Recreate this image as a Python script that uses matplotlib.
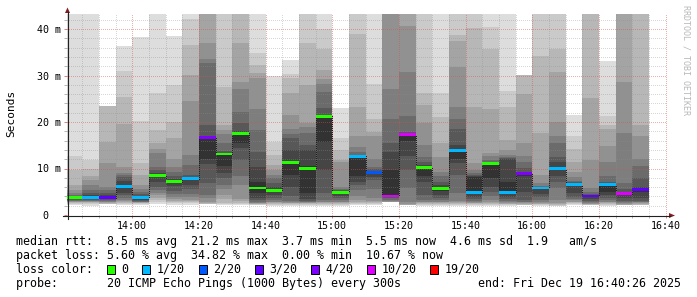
import matplotlib
matplotlib.use("Agg")
import matplotlib.pyplot as plt
from matplotlib.lines import Line2D
from matplotlib.patches import Rectangle, Polygon
from matplotlib.ticker import MultipleLocator, FuncFormatter

# ---------------- data (ms) ----------------
# end time of each 5-minute slot
slots = ["13:45", "13:50", "13:55", "14:00", "14:05", "14:10", "14:15", "14:20", "14:25",
         "14:30", "14:35", "14:40", "14:45", "14:50", "14:55", "15:00", "15:05", "15:10",
         "15:15", "15:20", "15:25", "15:30", "15:35", "15:40", "15:45", "15:50", "15:55",
         "16:00", "16:05", "16:10", "16:15", "16:20", "16:25", "16:30", "16:35"]

median_ms = [3.8, 3.7, 3.7, 6.1, 3.7, 8.5, 7.2, 7.8, 16.6, 13.1, 17.6, 5.8, 5.2, 11.3,
             10.0, 21.2, 4.9, 12.6, 9.2, 4.1, 17.3, 10.3, 5.7, 13.8, 4.8, 11.0, 4.8,
             9.0, 5.8, 10.0, 6.5, 4.1, 6.5, 4.6, 5.5]

lost_pings = [0, 1, 3, 1, 1, 0, 0, 1, 4, 0, 0, 0, 0, 0, 0, 0, 0, 1, 2, 7, 6, 0, 0, 1, 1,
              0, 1, 4, 1, 1, 1, 3, 1, 6, 3]

# sorted ping times per slot (20 pings, None = lost)
s1345 = [2.1, 2.3, 2.5, 2.7, 2.9, 3.0, 3.1, 3.3, 3.5, 3.7, 3.9, 4.0, 4.1, 4.3, 4.7, 5.4, 6.5, 9.7, 12.6, 45]
s1350 = [2.0, 2.3, 2.5, 2.7, 2.8, 3.0, 3.1, 3.2, 3.4, 3.6, 3.9, 4.2, 4.8, 5.4, 6.5, 7.5, 8.3, 10.0, 11.8, 45]
s1355 = [None, 2.2, 2.4, 2.6, 2.8, 2.9, 3.0, 3.2, 3.4, 3.6, 3.8, 4.3, 4.8, 5.4, 6.1, 11.2, 15.7, 23.4, None, None]
s1400 = [2.1, 2.4, 2.6, 2.8, 3.0, 3.2, 3.6, 4.2, 4.8, 5.7, 6.3, 7.3, 8.2, 8.6, 9.0, 10.4, 19.6, 25.3, 31.0, 36.3]
s1405 = [2.1, 2.3, 2.5, 2.6, 2.7, 2.8, 2.9, 3.1, 3.3, 3.6, 3.8, 4.1, 4.5, 5.0, 5.6, 6.5, 8.6, 11.2, 20.3, 38.2]
s1410 = [2.4, 2.8, 3.2, 3.6, 4.3, 4.8, 5.4, 6.0, 7.0, 8.2, 8.7, 9.0, 9.6, 10.4, 13.3, 14.3, 15.4, 18.3, 26.2, 45]
s1415 = [2.2, 2.5, 2.8, 3.1, 3.5, 3.9, 4.5, 5.2, 6.2, 7.0, 7.4, 7.8, 8.3, 9.2, 10.4, 12.0, 16.5, 20.0, 28.0, 38.5]
s1420 = [2.2, 2.5, 2.8, 3.0, 3.3, 3.8, 4.5, 5.5, 6.5, 7.6, 7.9, 8.2, 8.6, 10.8, 12.9, 24.6, 30.1, 36.6, 42.1, 45]
s1425 = [None, None, 2.3, 2.6, 2.9, 3.6, 4.3, 6.8, 11.0, 12.0, 16.7, 16.9, 19.4, 32.6, 33.6, 36.9, 45, 45, None, None]
s1430 = [2.1, 2.3, 2.5, 3.5, 4.3, 5.5, 6.5, 8.0, 9.0, 10.6, 13.2, 13.4, 13.8, 15.4, 17.4, 18.3, 19.4, 27.6, 45, 45]
s1435 = [2.1, 2.3, 2.6, 3.0, 3.4, 6.5, 8.3, 11.8, 14.5, 15.5, 17.7, 18.0, 19.7, 22.2, 27.0, 28.5, 36.9, 45, 45, 45]
s1440 = [2.1, 2.2, 2.3, 2.4, 2.5, 2.6, 2.8, 3.2, 3.6, 4.7, 7.2, 10.4, 13.6, 18.3, 22.9, 29.4, 30.5, 32.3, 34.8, 45]
s1445 = [2.0, 2.2, 2.4, 2.5, 2.7, 2.9, 3.2, 3.6, 4.2, 5.0, 5.4, 6.1, 6.8, 7.9, 8.6, 9.7, 10.8, 12.9, 15.6, 29.9]
s1450 = [2.0, 2.2, 2.3, 2.5, 2.6, 2.8, 3.0, 4.0, 6.1, 8.5, 11.6, 14.0, 16.5, 17.4, 18.4, 21.5, 26.2, 29.4, 30.3, 33.3]
s1455 = [2.0, 2.2, 2.4, 2.5, 2.6, 2.7, 2.8, 3.0, 3.5, 4.7, 10.5, 14.0, 15.1, 17.6, 19.0, 19.7, 27.9, 36.9, 45, 45]
s1500 = [2.0, 2.2, 2.3, 2.5, 2.7, 2.9, 3.3, 4.7, 9.7, 15.8, 21.3, 21.5, 23.0, 26.5, 28.2, 29.2, 31.2, 35.8, 40.0, 45]
s1505 = [2.0, 2.2, 2.4, 2.5, 2.7, 2.9, 3.2, 3.6, 4.0, 4.6, 5.0, 5.1, 5.3, 5.6, 6.1, 11.4, 11.8, 13.9, 16.5, 23.0]
s1510 = [2.1, 2.3, 2.5, 2.8, 3.2, 4.0, 5.4, 6.5, 7.2, 8.3, 12.7, 12.8, 13.0, 13.6, 14.7, 17.0, 23.3, 38.9, 45, 45]
s1515 = [2.1, 2.3, 2.5, 2.7, 3.0, 3.6, 5.5, 7.5, 8.2, 9.0, 9.3, 9.5, 9.8, 10.4, 12.0, 16.9, 17.9, 20.6, 28.2, 45]
s1520 = [None, None, None, 2.4, 2.7, 3.0, 3.3, 3.6, 3.9, 4.3, 9.7, 13.6, 15.4, 20.6, 27.2, 45, None, None, None, None]
s1525 = [None, None, None, 2.2, 2.4, 2.8, 5.8, 9.7, 12.6, 16.0, 17.4, 17.6, 17.9, 21.3, 30.8, 40.7, 45, None, None, None]
s1530 = [2.0, 2.2, 2.4, 2.5, 2.7, 2.9, 3.2, 4.3, 7.0, 8.3, 10.5, 10.8, 11.3, 12.5, 15.1, 19.7, 23.7, 26.2, 45, 45]
s1535 = [2.0, 2.2, 2.4, 2.5, 2.7, 2.9, 3.2, 3.6, 4.3, 5.2, 5.9, 6.4, 7.2, 8.3, 9.3, 12.5, 15.4, 21.0, 26.2, 45]
s1540 = [2.0, 2.2, 2.4, 2.5, 2.7, 3.0, 4.7, 8.6, 11.2, 12.0, 14.0, 15.0, 18.4, 20.6, 23.3, 31.9, 37.5, 38.7, 45, 45]
s1545 = [2.0, 2.2, 2.3, 2.5, 2.6, 2.8, 3.0, 3.4, 3.9, 4.6, 8.2, 8.4, 8.6, 9.0, 9.7, 11.1, 23.3, 40.2, 45, 45]
s1550 = [1.9, 2.1, 2.3, 2.5, 2.8, 3.3, 4.0, 5.0, 6.0, 8.0, 11.1, 11.3, 11.5, 11.8, 12.7, 13.3, 22.9, 35.8, 40.4, 45]
s1555 = [1.9, 2.1, 2.3, 2.4, 2.6, 2.8, 3.0, 3.4, 3.9, 4.6, 7.0, 12.0, 12.2, 12.4, 13.0, 14.0, 16.2, 23.3, 26.7, 45]
s1600 = [None, None, 2.1, 2.3, 2.5, 2.7, 2.9, 3.3, 5.0, 8.3, 9.1, 9.3, 10.1, 11.3, 12.7, 15.4, 26.0, 30.1, None, None]
s1605 = [1.9, 2.1, 2.3, 2.4, 2.6, 2.9, 3.2, 3.8, 4.6, 5.6, 5.9, 6.0, 6.1, 6.3, 6.8, 8.6, 17.7, 34.1, 45, 45]
s1610 = [1.9, 2.0, 2.2, 2.3, 2.5, 3.2, 5.7, 7.2, 8.3, 9.8, 10.4, 11.5, 12.5, 15.4, 16.9, 20.1, 30.8, 35.8, 45, 45]
s1615 = [2.1, 2.3, 2.5, 2.7, 2.9, 3.2, 3.5, 3.9, 4.7, 6.2, 6.6, 6.8, 7.0, 7.3, 8.2, 9.3, 11.5, 14.1, 17.0, 21.5]
s1620 = [None, 2.0, 2.1, 2.3, 2.4, 2.5, 2.7, 3.0, 3.4, 3.9, 4.2, 4.4, 4.6, 5.0, 5.8, 11.8, 25.1, 45, None, None]
s1625 = [2.0, 2.1, 2.3, 2.5, 2.7, 2.9, 3.2, 3.6, 4.3, 5.0, 6.7, 6.9, 7.2, 8.3, 11.5, 14.9, 18.4, 19.4, 21.3, 33.2]
s1630 = [None, None, None, 2.1, 2.3, 2.5, 2.7, 3.0, 3.6, 4.3, 4.8, 5.0, 5.5, 6.8, 17.6, 28.7, 45, None, None, None]
s1635 = [None, 2.0, 2.2, 2.3, 2.5, 2.7, 2.9, 3.0, 3.6, 5.0, 5.6, 6.1, 8.0, 10.5, 12.1, 17.0, 19.4, 45, None, None]

pings = [s1345, s1350, s1355, s1400, s1405, s1410, s1415, s1420, s1425, s1430, s1435, s1440,
         s1445, s1450, s1455, s1500, s1505, s1510, s1515, s1520, s1525, s1530, s1535, s1540,
         s1545, s1550, s1555, s1600, s1605, s1610, s1615, s1620, s1625, s1630, s1635]

loss_legend = ["0", "1/20", "2/20", "3/20", "4/20", "10/20", "19/20"]
loss_colors = ["#26ff00", "#00b8ff", "#0059ff", "#5e00ff", "#7e00ff", "#dd00ff", "#ff0000"]

stats_rtt = "median rtt:  8.5 ms avg  21.2 ms max  3.7 ms min  5.5 ms now  4.6 ms sd  1.9   am/s"
stats_loss = "packet loss: 5.60 % avg  34.82 % max  0.00 % min  10.67 % now"
probe_text = "probe:       20 ICMP Echo Pings (1000 Bytes) every 300s"
end_text = "end: Fri Dec 19 16:40:26 2025"

# ---------------- figure ----------------
W, H = 697, 297
fig = plt.figure(figsize=(W / 100, H / 100), dpi=100)
fig.patch.set_facecolor("white")
MONO = "DejaVu Sans Mono"


def fx(x):
    return x / W


def fy(y):
    return 1 - y / H


L, R, T, B = 67, 667, 14, 215
PX_PER_MS = 4.65
ax = fig.add_axes([fx(L), fy(B), (R - L) / W, (B - T) / H])
ax.set_facecolor("white")
START = 13 * 60 + 40 + 26 / 60.0
END = START + 180
ax.set_xlim(START, END)
ax.set_ylim(0, (B - T) / PX_PER_MS)


def tmin(s):
    h, m = s.split(":")
    return int(h) * 60 + int(m)


ends = [tmin(s) for s in slots]
lefts = [max(START, e - 5) for e in ends]
widths = [e - l for e, l in zip(ends, lefts)]

# smoke layers (outer = light, inner = dark)
for k in range(1, 11):
    shade = int(190 / 10 * (10 - k)) + 50
    col = "#%02x%02x%02x" % (shade, shade, shade)
    xs, bs, hs, ws = [], [], [], []
    for i, p in enumerate(pings):
        lo, hi = p[k - 1], p[20 - k]
        if lo is None or hi is None:
            continue
        xs.append(lefts[i]); bs.append(lo); hs.append(hi - lo); ws.append(widths[i])
    ax.bar(xs, hs, ws, bottom=bs, align="edge", color=col, linewidth=0,
           antialiased=False, zorder=1 + k * 0.01)

# median step line (dotted)
edges = [lefts[0]] + ends
st = ax.stairs(median_ms, edges, baseline=None, color="#202020", linestyle=(0, (1, 2)),
               linewidth=0.72, zorder=3)
st.set_antialiased(False)


def loss_color(n):
    if n == 0:
        return loss_colors[0]
    if n <= 4:
        return loss_colors[n]
    if n <= 10:
        return loss_colors[5]
    return loss_colors[6]


hw = 0.3
ax.bar(lefts, [2 * hw] * len(lefts), widths, bottom=[m - hw for m in median_ms],
       align="edge", color=[loss_color(n) for n in lost_pings], linewidth=0,
       antialiased=False, zorder=4)

# grid / ticks
ax.xaxis.set_major_locator(MultipleLocator(20))
ax.xaxis.set_minor_locator(MultipleLocator(5))
ax.yaxis.set_major_locator(MultipleLocator(10))
ax.yaxis.set_minor_locator(MultipleLocator(2))
ax.set_axisbelow(False)
ax.grid(which="minor", color="#8f8f8f", alpha=0.35, linewidth=0.72, linestyle=(0, (1, 2)),
        antialiased=False)
ax.grid(which="major", color="#de4f4f", alpha=0.45, linewidth=0.72, linestyle=(0, (1, 2)),
        antialiased=False)
ax.xaxis.set_major_formatter(FuncFormatter(lambda v, p: "%d:%02d" % (int(round(v)) // 60, int(round(v)) % 60)))
ax.yaxis.set_major_formatter(FuncFormatter(lambda v, p: "0  " if abs(v) < 1e-9 else "%d m" % round(v)))
ax.tick_params(which="major", length=2, width=0.72, color="#e08080", labelsize=7.2, pad=2.5)
ax.tick_params(which="minor", length=2, width=0.72, color="#b8b8b8")
for lab in ax.get_xticklabels() + ax.get_yticklabels():
    lab.set_fontfamily(MONO)
for s in ax.spines.values():
    s.set_visible(False)

# axis lines and arrows
fig.add_artist(Line2D([fx(63), fx(670)], [fy(215.5), fy(215.5)], color="#202020", lw=0.8))
fig.add_artist(Line2D([fx(67.5), fx(67.5)], [fy(219), fy(12)], color="#202020", lw=0.8))
fig.add_artist(Polygon([(fx(669), fy(213)), (fx(675), fy(215.5)), (fx(669), fy(218))],
                       closed=True, color="#7f1f1f", lw=0))
fig.add_artist(Polygon([(fx(65), fy(13)), (fx(67.5), fy(7.5)), (fx(70), fy(13))],
                       closed=True, color="#7f1f1f", lw=0))

# labels
fig.text(fx(11), fy(113), "Seconds", rotation=90, ha="center", va="center",
         fontsize=8, family=MONO)
fig.text(fx(686), fy(5), "RRDTOOL / TOBI OETIKER", rotation=270, ha="center", va="top",
         fontsize=6, family=MONO, color="#b8b8b8")

FS = 8.4
CW = 0.602 * FS * 100 / 72.0
X0 = 16
rows = [241, 255.5, 269.5, 283.5]
fig.text(fx(X0), fy(rows[0]), stats_rtt, fontsize=FS, family=MONO, va="center", ha="left")
fig.text(fx(X0), fy(rows[1]), stats_loss, fontsize=FS, family=MONO, va="center", ha="left")
fig.text(fx(X0), fy(rows[2]), "loss color:", fontsize=FS, family=MONO, va="center", ha="left")
col = 13
for lab, c in zip(loss_legend, loss_colors):
    bx = X0 + col * CW
    fig.add_artist(Rectangle((fx(bx), fy(rows[2] + 4.5)), 8 / W, 9 / H, facecolor=c,
                             edgecolor="black", linewidth=0.7))
    fig.text(fx(X0 + (col + 2) * CW), fy(rows[2]), lab, fontsize=FS, family=MONO,
             va="center", ha="left")
    col = col + 2 + len(lab) + 2
fig.text(fx(X0), fy(rows[3]), probe_text, fontsize=FS, family=MONO, va="center", ha="left")
fig.text(fx(681), fy(rows[3]), end_text, fontsize=FS, family=MONO, va="center", ha="right")

fig.savefig("out.png", dpi=100, facecolor="white")
